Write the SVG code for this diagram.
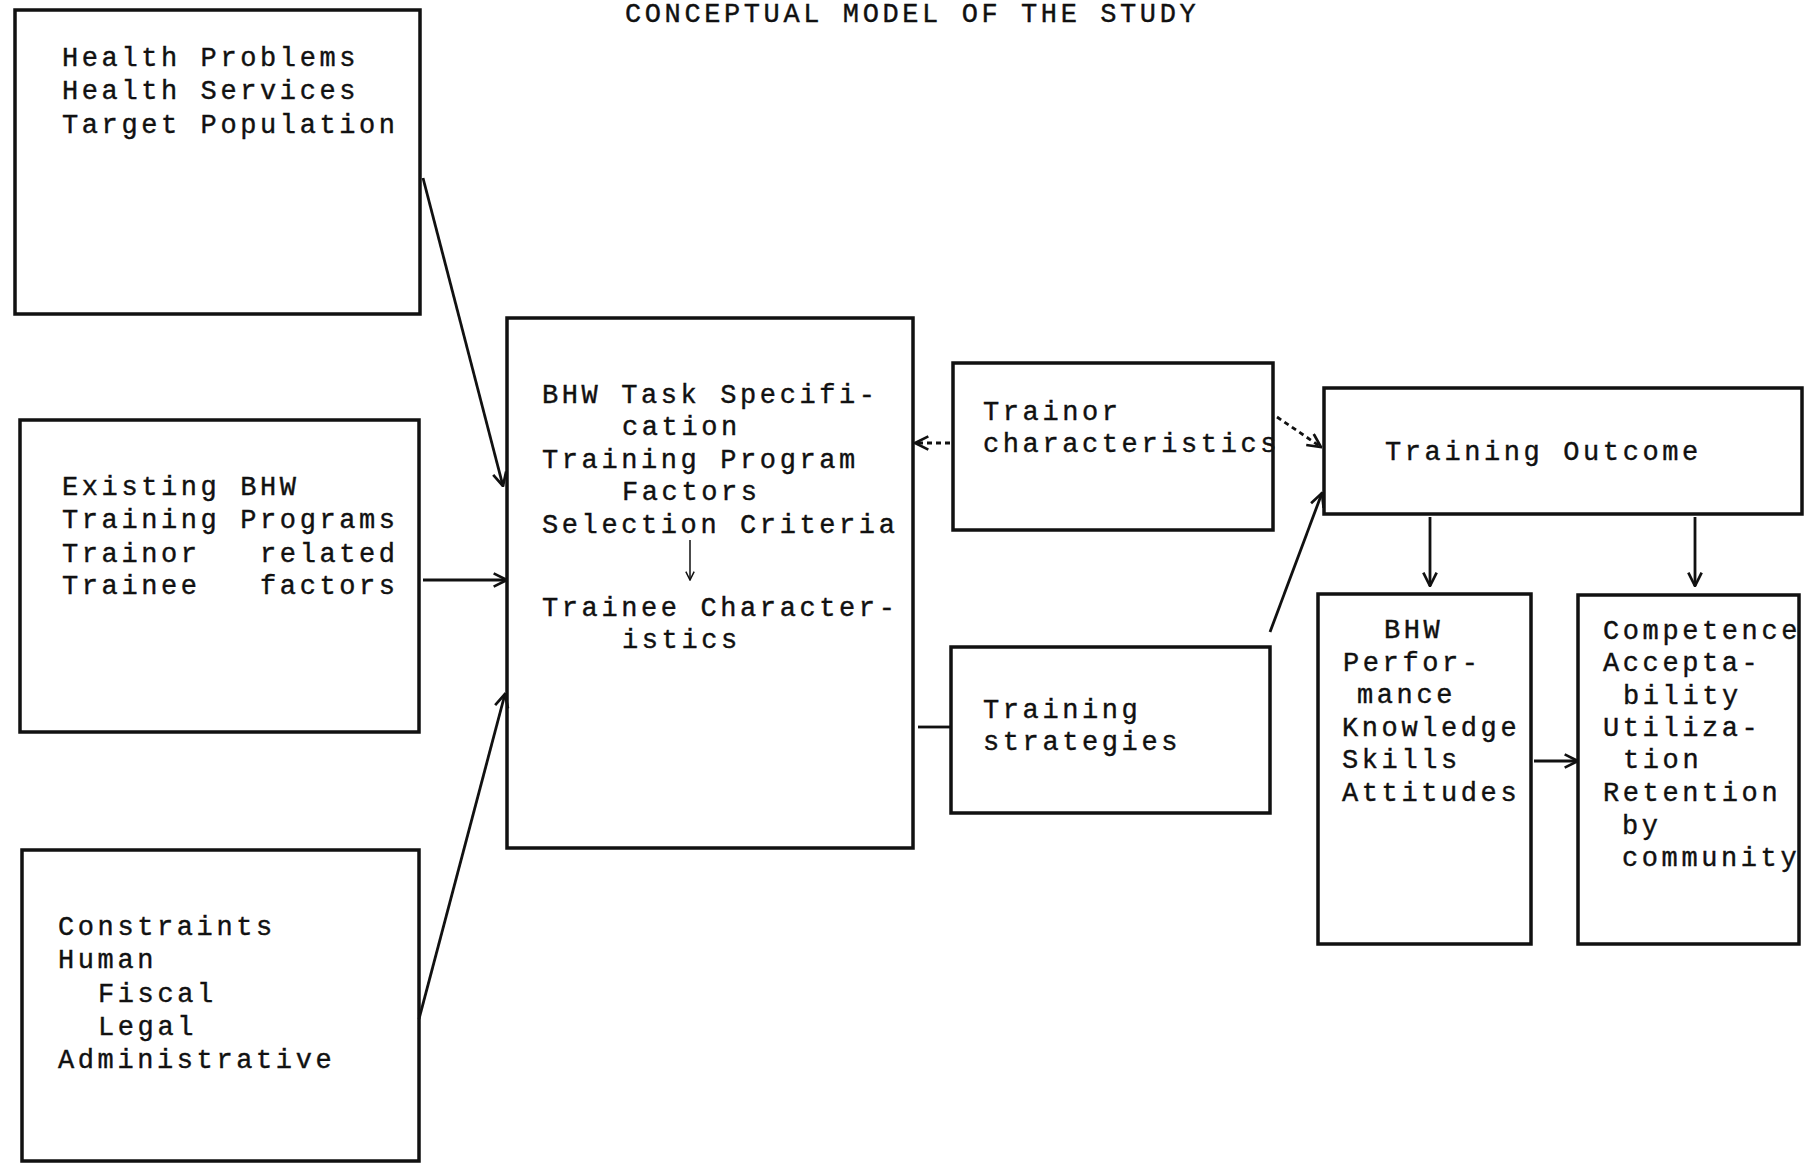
<svg xmlns="http://www.w3.org/2000/svg" width="1816" height="1164" viewBox="0 0 1816 1164">
<style>
  .box { fill: none; stroke: #111; stroke-width: 3.5; }
  .t { font-family: "Liberation Mono", "DejaVu Sans Mono", monospace; font-size: 27px; letter-spacing: 3.6px; fill: #111; stroke: #111; stroke-width: 0.4; }
  .c { fill: none; stroke: #111; stroke-width: 2.8; }
  .thin { fill: none; stroke: #111; stroke-width: 1.5; }
  .dash { stroke-dasharray: 5 4; }
</style>
<defs>
  <marker id="ah" viewBox="0 0 12 12" refX="11" refY="6" markerWidth="16" markerHeight="16" markerUnits="userSpaceOnUse" orient="auto">
    <path d="M1,1 L11,6 L1,11" fill="none" stroke="#111" stroke-width="2"/>
  </marker>
  <marker id="ahs" viewBox="0 0 12 12" refX="11" refY="6" markerWidth="10" markerHeight="10" markerUnits="userSpaceOnUse" orient="auto">
    <path d="M1,1 L11,6 L1,11" fill="none" stroke="#111" stroke-width="1.8"/>
  </marker>
</defs>
<rect width="1816" height="1164" fill="#fff"/>

<text class="t" x="625" y="22">CONCEPTUAL MODEL OF THE STUDY</text>

<g id="node-health">
  <rect class="box" x="15" y="10" width="405" height="304"/>
  <text class="t" x="62" y="66">Health Problems</text>
  <text class="t" x="62" y="99">Health Services</text>
  <text class="t" x="62" y="133">Target Population</text>
</g>

<g id="node-existing">
  <rect class="box" x="20" y="420" width="399" height="312"/>
  <text class="t" x="62" y="495">Existing BHW</text>
  <text class="t" x="62" y="528">Training Programs</text>
  <text class="t" x="62" y="562" xml:space="preserve">Trainor   related</text>
  <text class="t" x="62" y="594" xml:space="preserve">Trainee   factors</text>
</g>

<g id="node-constraints">
  <rect class="box" x="22" y="850" width="397" height="311"/>
  <text class="t" x="58" y="935">Constraints</text>
  <text class="t" x="58" y="968">Human</text>
  <text class="t" x="98" y="1002">Fiscal</text>
  <text class="t" x="98" y="1035">Legal</text>
  <text class="t" x="58" y="1068">Administrative</text>
</g>

<g id="node-central">
  <rect class="box" x="507" y="318" width="406" height="530"/>
  <text class="t" x="542" y="403">BHW Task Specifi-</text>
  <text class="t" x="622" y="435">cation</text>
  <text class="t" x="542" y="468">Training Program</text>
  <text class="t" x="622" y="500">Factors</text>
  <text class="t" x="542" y="533">Selection Criteria</text>
  <line class="thin" x1="690" y1="540" x2="690" y2="580" marker-end="url(#ahs)"/>
  <text class="t" x="542" y="616">Trainee Character-</text>
  <text class="t" x="622" y="648">istics</text>
</g>

<g id="node-trainor">
  <rect class="box" x="953" y="363" width="320" height="167"/>
  <text class="t" x="983" y="420">Trainor</text>
  <text class="t" x="983" y="452">characteristics</text>
</g>

<g id="node-strategies">
  <rect class="box" x="951" y="647" width="319" height="166"/>
  <text class="t" x="983" y="718">Training</text>
  <text class="t" x="983" y="750">strategies</text>
</g>

<g id="node-outcome">
  <rect class="box" x="1324" y="388" width="478" height="126"/>
  <text class="t" x="1385" y="460">Training Outcome</text>
</g>

<g id="node-performance">
  <rect class="box" x="1318" y="594" width="213" height="350"/>
  <text class="t" x="1384" y="638">BHW</text>
  <text class="t" x="1343" y="671">Perfor-</text>
  <text class="t" x="1357" y="703">mance</text>
  <text class="t" x="1342" y="736">Knowledge</text>
  <text class="t" x="1342" y="768">Skills</text>
  <text class="t" x="1342" y="801">Attitudes</text>
</g>

<g id="node-competence">
  <rect class="box" x="1578" y="595" width="221" height="349"/>
  <text class="t" x="1603" y="639">Competence</text>
  <text class="t" x="1603" y="671">Accepta-</text>
  <text class="t" x="1623" y="704">bility</text>
  <text class="t" x="1603" y="736">Utiliza-</text>
  <text class="t" x="1623" y="768">tion</text>
  <text class="t" x="1603" y="801">Retention</text>
  <text class="t" x="1622" y="834">by</text>
  <text class="t" x="1622" y="866">community</text>
</g>

<g id="connectors">
  <line class="c" x1="423" y1="178" x2="503" y2="486" marker-end="url(#ah)"/>
  <line class="c" x1="423" y1="580" x2="507" y2="580" marker-end="url(#ah)"/>
  <line class="c" x1="419" y1="1019" x2="505" y2="694" marker-end="url(#ah)"/>
  <line class="c dash" x1="950" y1="443" x2="915" y2="443" marker-end="url(#ah)"/>
  <line class="c" x1="918" y1="727" x2="950" y2="727"/>
  <line class="c dash" x1="1277" y1="417" x2="1321" y2="447" marker-end="url(#ah)"/>
  <line class="c" x1="1270" y1="632" x2="1322" y2="493" marker-end="url(#ah)"/>
  <line class="c" x1="1430" y1="517" x2="1430" y2="586" marker-end="url(#ah)"/>
  <line class="c" x1="1695" y1="517" x2="1695" y2="586" marker-end="url(#ah)"/>
  <line class="c" x1="1534" y1="761" x2="1578" y2="761" marker-end="url(#ah)"/>
</g>
</svg>
